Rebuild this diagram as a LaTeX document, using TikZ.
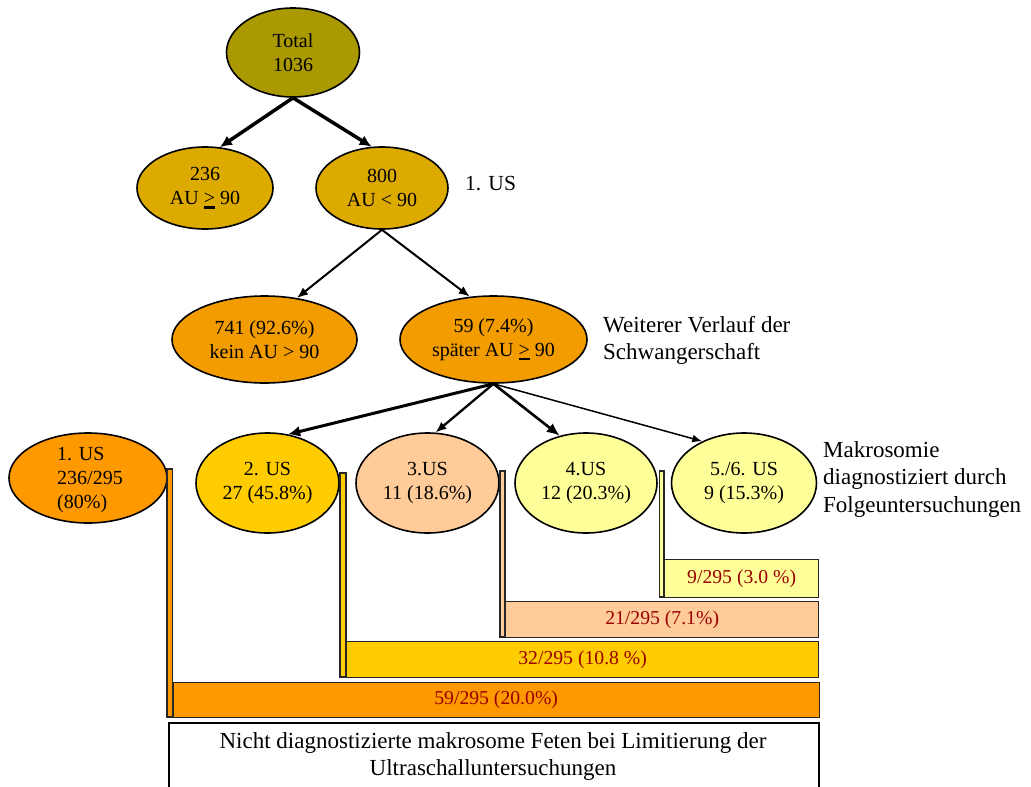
\documentclass[tikz,border=0pt]{standalone}
\usepackage{fontspec}
\setmainfont{Liberation Serif}
\usetikzlibrary{arrows.meta,shapes.geometric}
\definecolor{cTot}{HTML}{AA9900}
\definecolor{cLvTwo}{HTML}{DDAA00}
\definecolor{cLvThree}{HTML}{F29C00}
\definecolor{cOrange}{HTML}{FF9900}
\definecolor{cGold}{HTML}{FFCC00}
\definecolor{cPeach}{HTML}{FFCC99}
\definecolor{cPale}{HTML}{FFFF99}
\definecolor{cRed}{HTML}{990000}
\newcommand\ugtsym{\leavevmode\setbox0\hbox{>}\rlap{\rule[-4pt]{\wd0}{2.4pt}}\box0}
\begin{document}
\begin{tikzpicture}[x=1pt,y=-1pt,
  ell/.style={ellipse, draw=black, line width=1.6pt, inner sep=0pt},
  etxt/.style={font=\fontsize{20}{24}\selectfont, align=center, inner sep=0pt},
  lab/.style={font=\fontsize{23}{27.5}\selectfont, align=left, inner sep=0pt, anchor=west},
  barbox/.style={draw=black!85, line width=1.3pt, inner sep=0pt, anchor=north west,
    font=\fontsize{19.7}{24}\selectfont, text=cRed},
  stem/.style={draw=black!85, line width=1.1pt},
  arrA/.style={line width=3.5pt, -{Latex[length=12pt,width=11pt]}},
  arrB/.style={line width=2pt, -{Latex[length=11pt,width=9pt]}},
  arrC/.style={line width=1.5pt, -{Latex[length=10pt,width=8pt]}},
]
\useasboundingbox (0,0) rectangle (1031,787);

% level 1
\node[ell, fill=cTot, minimum width=133, minimum height=89] (tot) at (293,52.5) {};
\node[etxt] (tott) at (tot.center) {Total\\1036};
% level 2
\node[ell, fill=cLvTwo, minimum width=136, minimum height=82] (n236) at (205,188) {};
\node[etxt] (n236t) at (n236.center) {236\\AU \ugtsym{} 90};
\node[ell, fill=cLvTwo, minimum width=132, minimum height=82] (n800) at (382,188) {};
\node[etxt] (n800t) at (n800.center) {800\\AU < 90};
\node[lab, font=\fontsize{21.5}{26}\selectfont] (l1) at (465,184) {1. US};
% level 3
\node[ell, fill=cLvThree, minimum width=185, minimum height=87] (n741) at (264.5,339.5) {};
\node[etxt] (n741t) at (n741.center) {741 (92.6\%)\\kein AU > 90};
\node[ell, fill=cLvThree, minimum width=187, minimum height=87] (n59) at (493.5,339.5) {};
\node[etxt] (n59t) at (n59.center) {59 (7.4\%)\\später AU \ugtsym{} 90};
\node[lab] (l2) at (603,340.5) {Weiterer Verlauf der\\Schwangerschaft};
% level 4
\node[ell, fill=cOrange, minimum width=158, minimum height=90] (u1) at (88,478) {};
\node[etxt, align=left] (u1t) at (90,480) {1. US\\236/295\\(80\%)};
\node[ell, fill=cGold, minimum width=143, minimum height=100] (u2) at (267.5,483) {};
\node[etxt] (u2t) at (u2.center) {2. US\\27 (45.8\%)};
\node[ell, fill=cPeach, minimum width=143, minimum height=100] (u3) at (427.5,483) {};
\node[etxt] (u3t) at (u3.center) {3.US\\11 (18.6\%)};
\node[ell, fill=cPale, minimum width=142, minimum height=100] (u4) at (586,483) {};
\node[etxt] (u4t) at (u4.center) {4.US\\12 (20.3\%)};
\node[ell, fill=cPale, minimum width=145, minimum height=100] (u5) at (744,483) {};
\node[etxt] (u5t) at (u5.center) {5./6. US\\9 (15.3\%)};
\node[lab] (l3) at (823,479) {Makrosomie\\diagnostiziert durch\\Folgeuntersuchungen};

% arrows
\draw[arrA] (tot.south) -- (n236.70);
\draw[arrA] (tot.south) -- (n800.104);
\draw[arrB] (n800.south) -- (n741.52);
\draw[arrB] (n800.south) -- (n59.119);
\draw[arrA, line width=3pt] (n59.south) -- (u2.67);
\draw[arrB, line width=2.3pt] (n59.south) -- (u3.81);
\draw[arrB, line width=2.6pt, -{Latex[length=13pt,width=11pt]}] (n59.south) -- (u4.119);
\draw[arrC] (n59.south) -- (u5.135);

% stems
\draw[stem, fill=cOrange] (167,469) rectangle (172.5,717);
\draw[stem, fill=cGold] (340,473) rectangle (346,677);
\draw[stem, fill=cPeach] (500,471) rectangle (505,637);
\draw[stem, fill=cPale] (659.5,471) rectangle (664,597);

% bars
\node[barbox, fill=cPale, minimum width=154, minimum height=38] (b9) at (664,559) {9/295 (3.0 \%)};
\node[barbox, fill=cPeach, minimum width=313, minimum height=36] (b21) at (505,601) {21/295 (7.1\%)};
\node[barbox, fill=cGold, minimum width=472, minimum height=36] (b32) at (346,641) {32/295 (10.8 \%)};
\node[barbox, fill=cOrange, minimum width=646, minimum height=35] (b59) at (172.5,682) {59/295 (20.0\%)};
\node[barbox, draw=black, line width=1.6pt, fill=white, minimum width=650, minimum height=80] (box) at (168,722) {};
\node[inner sep=0pt, font=\fontsize{23}{27}\selectfont, align=center] (boxt) at (493,756.5)
  {Nicht diagnostizierte makrosome Feten bei Limitierung der\\Ultraschalluntersuchungen};
\end{tikzpicture}
\end{document}
